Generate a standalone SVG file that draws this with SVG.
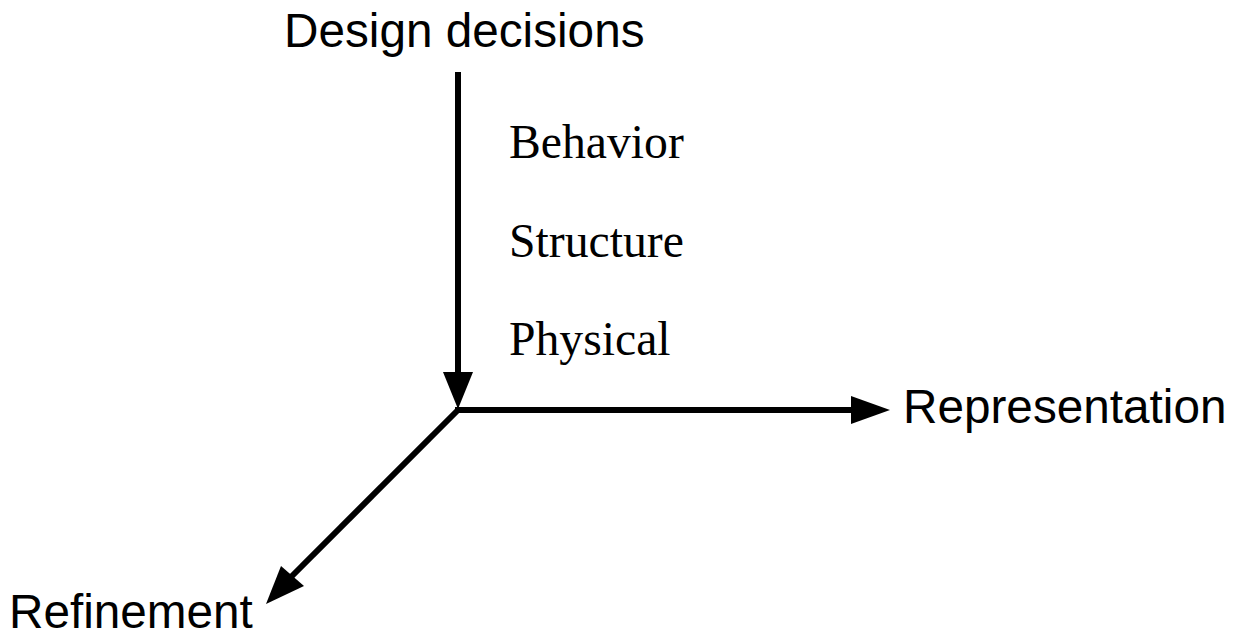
<svg xmlns="http://www.w3.org/2000/svg" width="1238" height="639" viewBox="0 0 1238 639">
  <style>
    .axis { stroke: #000; stroke-width: 6; fill: none; }
    .head { fill: #000; }
    .sans { font-family: "Liberation Sans", Arial, sans-serif; font-size: 47.7px; fill: #000; }
    .serif { font-family: "Liberation Serif", "Times New Roman", serif; font-size: 47.7px; fill: #000; }
  </style>
  <rect width="1238" height="639" fill="#fff"/>
  <g id="connectors">
    <!-- vertical axis with downward arrowhead -->
    <line class="axis" x1="458" y1="72" x2="458" y2="378"/>
    <polygon class="head" points="458,409 443,372 473,372"/>
    <!-- horizontal axis -->
    <line class="axis" x1="455" y1="410" x2="856" y2="410"/>
    <polygon class="head" points="890,410 851,396 851,424"/>
    <!-- diagonal axis -->
    <line class="axis" x1="460" y1="408" x2="290" y2="578"/>
    <polygon class="head" points="266,604 281,566 304,586"/>
  </g>
  <g id="design-decisions"><text class="sans" x="284" y="47">Design decisions</text></g>
  <g id="representation"><text class="sans" x="903" y="423">Representation</text></g>
  <g id="refinement"><text class="sans" x="9" y="628">Refinement</text></g>
  <g id="behavior"><text class="serif" x="509" y="158">Behavior</text></g>
  <g id="structure"><text class="serif" x="509" y="257">Structure</text></g>
  <g id="physical"><text class="serif" x="509" y="355">Physical</text></g>
</svg>
